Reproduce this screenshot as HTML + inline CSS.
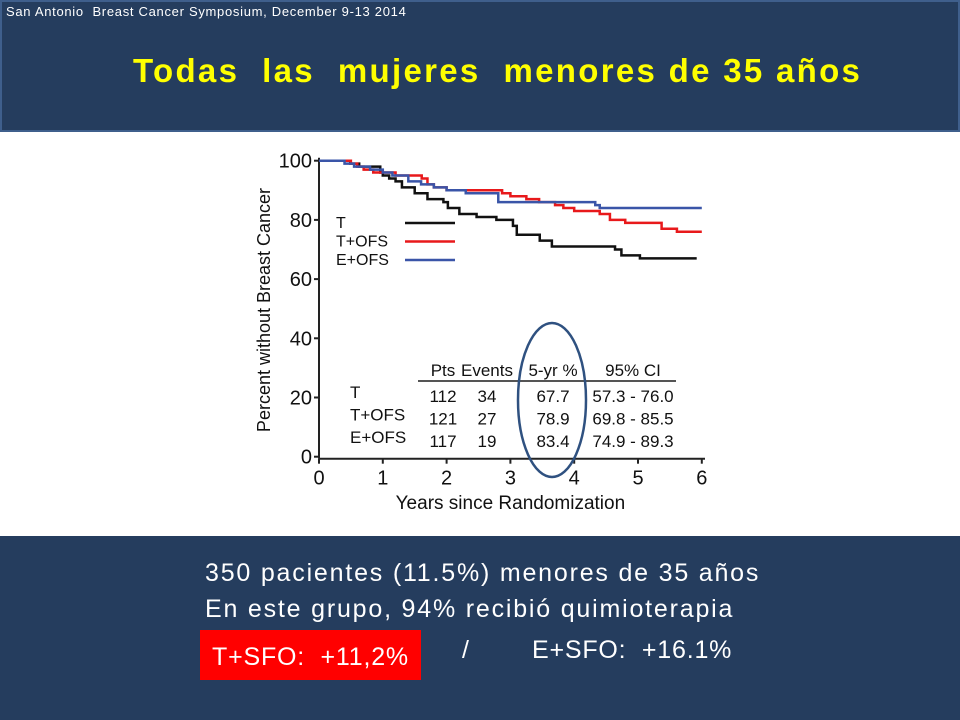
<!DOCTYPE html>
<html><head><meta charset="utf-8"><style>
body{margin:0;width:960px;height:720px;overflow:hidden;background:#fff;font-family:"Liberation Sans",sans-serif;position:relative}
.hdr{position:absolute;left:0;top:0;width:956px;height:128px;background:#253d5e;border:2px solid #3f5f8c}
.ftr{position:absolute;left:0;top:536px;width:960px;height:184px;background:#253d5e}
.t{position:absolute;white-space:nowrap}
</style></head><body>
<div class="hdr"></div>
<div class="t" style="left:6px;top:4px;color:#fff;font-size:13px;letter-spacing:0.7px">San Antonio&nbsp; Breast Cancer Symposium, December 9-13 2014</div>
<div class="t" style="left:133px;top:52px;color:#ffff00;font-size:33px;font-weight:bold;letter-spacing:2.3px">Todas&nbsp; las&nbsp; mujeres&nbsp; menores de 35 años</div>
<svg id="chart" style="position:absolute;left:0;top:0" width="960" height="536" font-family="Liberation Sans, sans-serif"></svg>
<div class="ftr"></div>
<div class="t" style="left:205px;top:559px;color:#fff;font-size:25px;letter-spacing:1.8px">350 pacientes (11.5%) menores de 35 años</div>
<div class="t" style="left:205px;top:595px;color:#fff;font-size:25px;letter-spacing:1.8px">En este grupo, 94% recibió quimioterapia</div>
<div class="t" style="left:200px;top:630px;width:221px;height:50px;background:#ff0000"></div>
<div class="t" style="left:212px;top:643px;color:#fff;font-size:25px;letter-spacing:0.8px">T+SFO:&nbsp; +11,2%</div>
<div class="t" style="left:462px;top:636px;color:#fff;font-size:25px">/</div>
<div class="t" style="left:532px;top:636px;color:#fff;font-size:25px;letter-spacing:0.8px">E+SFO:&nbsp; +16.1%</div>
<script>
const tT=[0,0.49,0.63,0.96,1.0,1.1,1.2,1.3,1.5,1.7,1.95,2.02,2.2,2.47,2.78,3.04,3.1,3.46,3.65,4.64,4.74,5.03,5.92];
const vT=[100,99,98,96,95,94,93,91,89,87,86,84,82,81,80,78,75,73,71,70,68,67,67];
const tTO=[0,0.5,0.6,0.7,0.85,1.0,1.2,1.61,1.7,1.8,2.0,2.87,3.0,3.25,3.45,3.7,3.83,4.0,4.4,4.56,4.8,5.37,5.61,6.0];
const vTO=[100,99,98,97,96,96,95,94,92,91,90,89,88,87,86,85,84,83,82,80,79,77,76,76];
const tEO=[0,0.4,0.55,0.8,1.0,1.15,1.4,1.6,1.8,2.0,2.3,2.81,4.33,4.4,6.0];
const vEO=[100,99,98,97,96,95,93,92,91,90,89,86,85,84,84];
const xTicks=[0,1,2,3,4,5,6];
const yTicks=[0,20,40,60,80,100];
const svg=document.getElementById('chart');
const NS='http://www.w3.org/2000/svg';
const X=t=>319+t*63.8, Y=v=>456.7-v*2.96;
function mk(tag,at,txt){const e=document.createElementNS(NS,tag);for(const k in at)e.setAttribute(k,at[k]);if(txt!=null)e.textContent=txt;svg.appendChild(e);return e;}
let e;
e=mk('line',{x1:X(0),y1:Y(101),x2:X(0),y2:Y(0)+2,stroke:'#222','stroke-width':2});


e=mk('line',{x1:X(0),y1:Y(0)+2,x2:X(6.05),y2:Y(0)+2,stroke:'#222','stroke-width':2});


xTicks.forEach(t=>{
 e=mk('line',{x1:X(t),y1:Y(0)+2,x2:X(t),y2:Y(0)+7,stroke:'#222','stroke-width':2});
 
 
 e=mk('text',{x:X(t),y:Y(0)+28,'font-size':20,'text-anchor':'middle',fill:'#111'},t);
 
 
});
yTicks.forEach(v=>{
 e=mk('line',{x1:X(0)-5,y1:Y(v),x2:X(0),y2:Y(v),stroke:'#222','stroke-width':2});
 
 
 e=mk('text',{x:X(0)-7,y:Y(v)+7,'font-size':20,'text-anchor':'end',fill:'#111'},v);
 
 
});
e=mk('text',{x:X(3),y:509,'font-size':19,'text-anchor':'middle',fill:'#111'},'Years since Randomization');


e=mk('text',{x:0,y:0,'font-size':18,'text-anchor':'middle',fill:'#111',transform:'translate(270,310) rotate(-90)'},'Percent without Breast Cancer');


function step(ts,vs){let d='M'+X(ts[0])+','+Y(vs[0]);for(let i=1;i<ts.length;i++){d+=' H'+X(ts[i])+' V'+Y(vs[i]);}return d;}
[[tT,vT,'#111','series-t'],[tTO,vTO,'#e8191b','series-t-ofs'],[tEO,vEO,'#3a55a8','series-e-ofs']].forEach(s=>{
 e=mk('path',{d:step(s[0],s[1]),fill:'none',stroke:s[2],'stroke-width':2.5});
 
 
});
const legNames=['T','T+OFS','E+OFS'], legCols=['#111','#e8191b','#3a55a8'];
legNames.forEach((n,i)=>{
 e=mk('text',{x:336,y:228+i*18.5,'font-size':16,fill:'#111'},n);
 
 
 e=mk('line',{x1:405,y1:223+i*18.5,x2:455,y2:223+i*18.5,stroke:legCols[i],'stroke-width':2.5});
 
 
});
const hdrs=['Pts','Events','5-yr %','95% CI'], hx=[443,487,553,633];
hdrs.forEach((h,i)=>{e=mk('text',{x:hx[i],y:376,'font-size':17,'text-anchor':'middle',fill:'#111'},h);
 
 });
e=mk('line',{x1:418,y1:381,x2:676,y2:381,stroke:'#555','stroke-width':2});


const rows=[['T','112','34','67.7','57.3 - 76.0'],['T+OFS','121','27','78.9','69.8 - 85.5'],['E+OFS','117','19','83.4','74.9 - 89.3']];
rows.forEach((r,i)=>{const y=402+i*22.5;
 e=mk('text',{x:350,y:y-4,'font-size':17,fill:'#111'},r[0]);
 
 
 for(let j=1;j<5;j++){e=mk('text',{x:hx[j-1],y:y,'font-size':17,'text-anchor':'middle',fill:'#111'},r[j]);
 
 }
});
e=mk('ellipse',{cx:552,cy:400,rx:34,ry:77,fill:'none',stroke:'#2f5180','stroke-width':2.5});


</script>
</body></html>
